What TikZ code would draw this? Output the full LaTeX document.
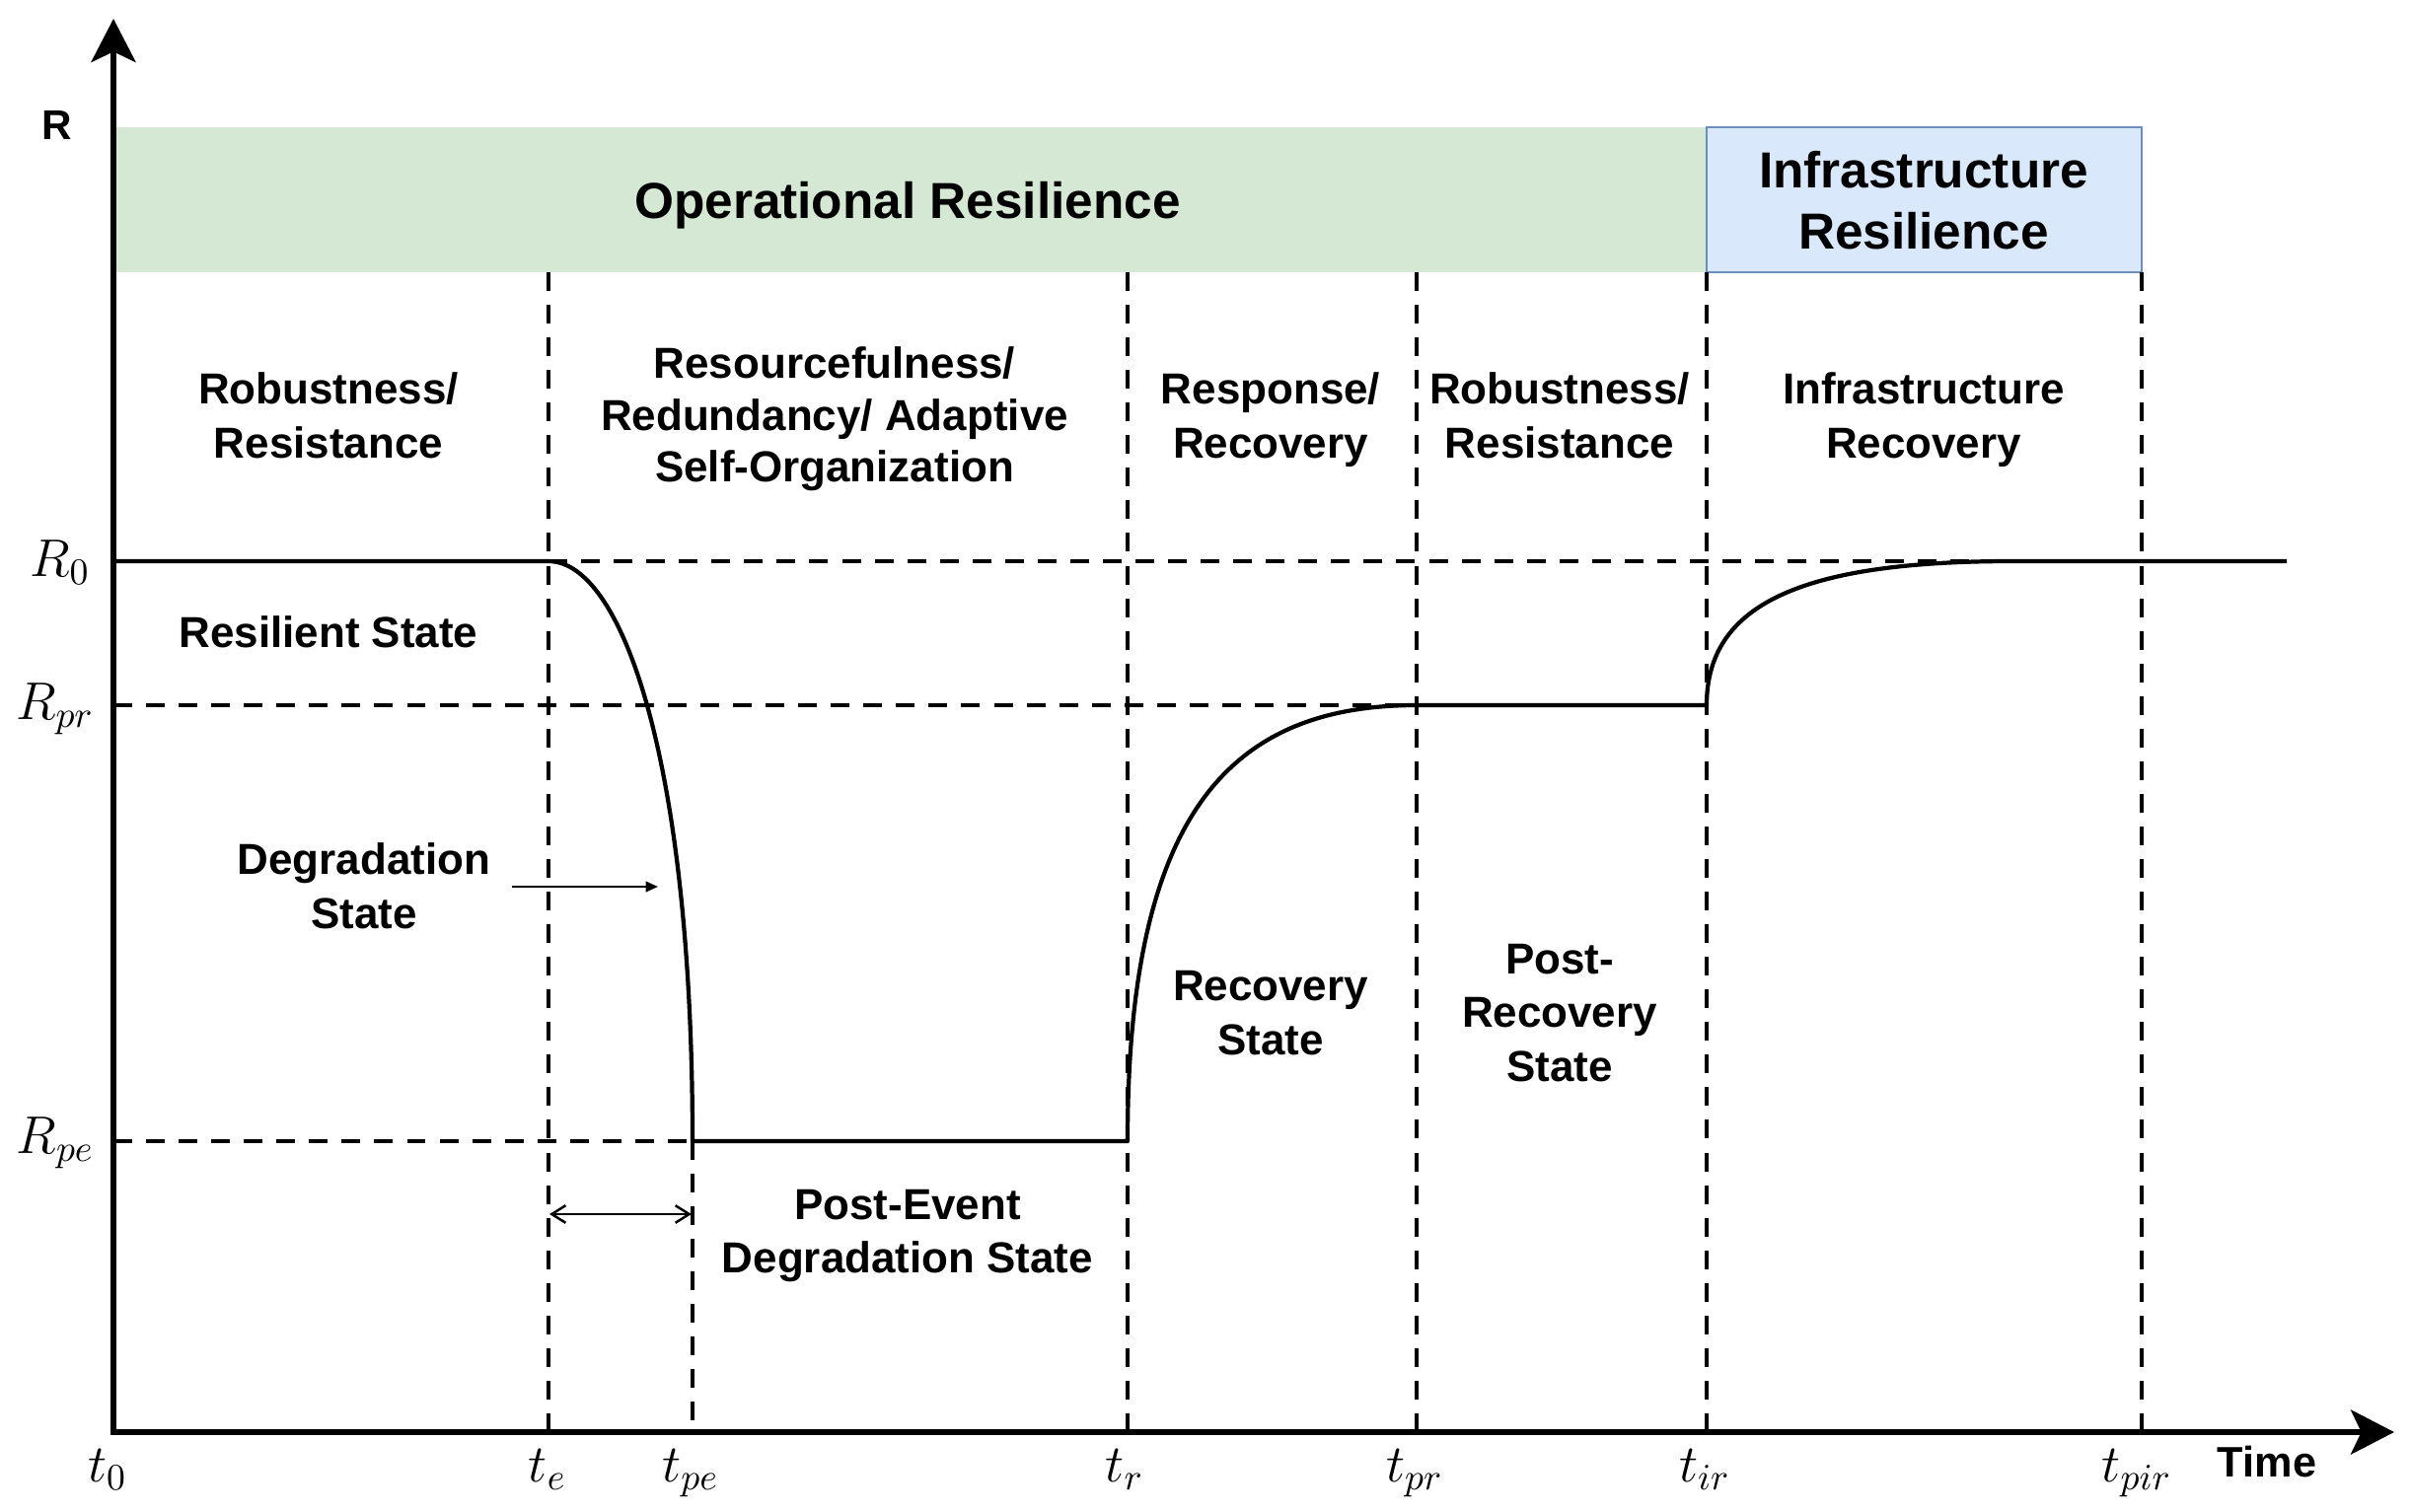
\RequirePackage{fix-cm}
\documentclass[tikz,border=0pt]{standalone}
\usepackage{fontspec}
\setmainfont{Liberation Sans}
\usetikzlibrary{arrows.meta}
\definecolor{opgreen}{HTML}{D5E8D4}
\definecolor{infblue}{HTML}{DAE8FC}
\definecolor{infborder}{HTML}{6C8EBF}
\tikzset{
  lbl/.style={font=\bfseries\fontsize{12.5}{15.6}\selectfont, align=center, inner sep=0pt},
  ttl/.style={font=\bfseries\fontsize{14.6}{17.6}\selectfont, align=center, inner sep=0pt},
  mlab/.style={font=\fontsize{15.3}{18}\selectfont, inner sep=0pt},
  axisline/.style={line width=1.7pt},
  guide/.style={line width=1pt, dash pattern=on 5.4pt off 4pt},
  curveline/.style={line width=1.2pt, line join=round},
  bigtip/.tip={Stealth[length=12.5pt,width=12.8pt,inset=3pt]},
}
\begin{document}
\begin{tikzpicture}[x=0.01cm,y=-0.01cm]
\useasboundingbox (0,0) rectangle (2444,1533);
\fill[white] (0,0) rectangle (2444,1533);

% resilience bands
\fill[opgreen] (115,129) rectangle (1730,276);
\draw[infborder, fill=infblue, line width=0.8pt] (1730,129) rectangle (2171,276);
\node[ttl] (oper) at (920,208) {Operational Resilience};
\node[ttl] (infres) at (1950,203) {Infrastructure\\Resilience};

% vertical guides
\coordinate (te) at (556,1452);
\coordinate (tpe) at (702,1452);
\coordinate (tr) at (1143,1452);
\coordinate (tpr) at (1436,1452);
\coordinate (tir) at (1730,1452);
\coordinate (tpir) at (2171,1452);
\draw[guide] (556,276) -- (te);
\draw[guide] (702,1157) -- (tpe);
\draw[guide] (1143,276) -- (tr);
\draw[guide] (1436,276) -- (tpr);
\draw[guide] (1730,276) -- (tir);
\draw[guide] (2171,276) -- (tpir);

% horizontal guides
\draw[guide] (556,569) -- (2030,569);
\draw[guide] (115,715) -- (1436,715);
\draw[guide] (115,1157) -- (702,1157);

% resilience curve
\draw[curveline] (115,569) -- (556,569)
  .. controls (630,569) and (702,770) .. (702,1157)
  -- (1143,1157)
  .. controls (1143,826) and (1246,715) .. (1436,715)
  -- (1730,715)
  .. controls (1730,613) and (1825,569) .. (2040,569)
  -- (2318,569);

% axes
\draw[axisline, {bigtip}-{bigtip}] (115,19) -- (115,1452) -- (2427,1452);

% axis labels
\node[font=\bfseries\fontsize{12}{14}\selectfont, inner sep=0pt] (rlab) at (58,127) {R};
\node[font=\bfseries\fontsize{12.3}{14}\selectfont, inner sep=0pt, anchor=base] (timelab) at (2298,1497) {Time};
\node[mlab, anchor=base east] (r0) at (92,584) {$R_0$};
\node[mlab, anchor=base east] (rpr) at (96,729) {$R_{pr}$};
\node[mlab, anchor=base east] (rpe) at (96,1169) {$R_{pe}$};
\node[mlab, anchor=base] (t0) at (109,1502) {$t_0$};
\node[mlab, anchor=base] (tel) at (555,1502) {$t_e$};
\node[mlab, anchor=base] (tpel) at (700,1502) {$t_{pe}$};
\node[mlab, anchor=base] (trl) at (1140,1502) {$t_r$};
\node[mlab, anchor=base] (tprl) at (1434,1502) {$t_{pr}$};
\node[mlab, anchor=base] (tirl) at (1728,1502) {$t_{ir}$};
\node[mlab, anchor=base] (tpirl) at (2166,1502) {$t_{pir}$};

% phase labels
\node[lbl] (rob1) at (333,421) {Robustness/\\Resistance};
\node[lbl, font=\bfseries\fontsize{12.5}{14.9}\selectfont] (res) at (846,425) {Resourcefulness/\\Redundancy/ Adaptive\\Self-Organization};
\node[lbl] (resp) at (1288,426) {Response/\\Recovery};
\node[lbl] (rob2) at (1581,421) {Robustness/\\Resistance};
\node[lbl] (infrec) at (1950,426) {Infrastructure\\Recovery};

% state labels
\node[lbl] (resil) at (333,641) {Resilient State};
\node[lbl] (degr) at (369,898) {Degradation\\State};
\node[lbl] (postev) at (920,1253) {Post-Event\\Degradation State};
\node[lbl] (recst) at (1288,1027) {Recovery\\State};
\node[lbl] (postrec) at (1581,1027) {Post-\\Recovery\\State};

% arrows
\coordinate (dgA) at (519,899);
\coordinate (dgB) at (667,899);
\draw[line width=0.6pt, -{Triangle[length=3.5pt,width=3pt]}] (dgA) -- (dgB);
\coordinate (dbA) at (557,1231);
\coordinate (dbB) at (701,1231);
\draw[line width=0.7pt, {Straight Barb[length=4pt,width=5pt]}-{Straight Barb[length=4pt,width=5pt]}] (dbA) -- (dbB);
\end{tikzpicture}
\end{document}
